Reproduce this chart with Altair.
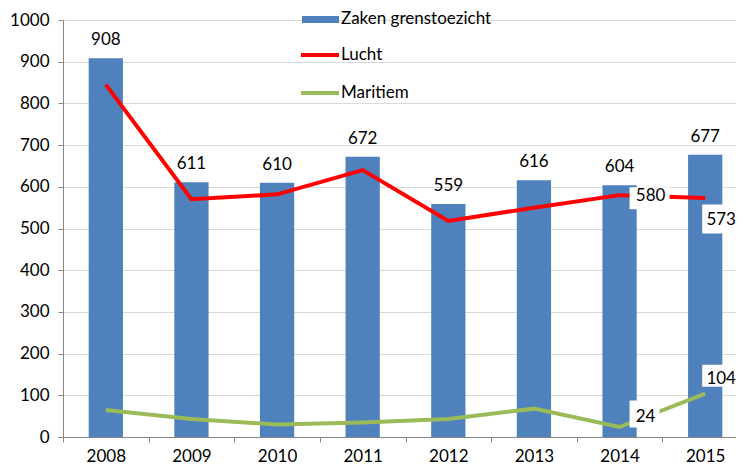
import altair as alt
import pandas as pd

years = ["2008", "2009", "2010", "2011", "2012", "2013", "2014", "2015"]
zaken = [908, 611, 610, 672, 559, 616, 604, 677]
lucht = [845, 570, 582, 640, 518, 550, 580, 573]
maritiem = [65, 43, 30, 35, 43, 68, 24, 104]
y_ticks = [0, 100, 200, 300, 400, 500, 600, 700, 800, 900, 1000]

FONT = "Lato"
FS = 17
BAR = "#4F81BD"
RED = "#FF0000"
GREEN = "#9BBB59"
AXIS = "#868686"

bars_df = pd.DataFrame({"year": years, "value": zaken})
lines_df = pd.DataFrame({
    "year": years * 2,
    "value": lucht + maritiem,
    "series": ["Lucht"] * 8 + ["Maritiem"] * 8,
})

x = alt.X("year:N", title=None, sort=years,
          scale=alt.Scale(paddingInner=0, paddingOuter=0, range=[0, 685]),
          axis=alt.Axis(tickBand="extent", labelAngle=0, domainColor=AXIS, tickColor=AXIS,
                        tickSize=5, labelPadding=6, grid=False))
y = alt.Y("value:Q", title=None,
          scale=alt.Scale(domain=[0, 1000], nice=False),
          axis=alt.Axis(values=y_ticks, format="d", domainColor=AXIS, tickColor=AXIS, tickSize=5,
                        labelPadding=9, gridColor="#D9D9D9", grid=True))

base_bar = alt.Chart(bars_df)
bars = base_bar.mark_bar(color=BAR, width=alt.RelativeBandSize(0.4)).encode(x=x, y=y)
bar_labels = base_bar.mark_text(dy=-13, baseline="alphabetic", fontSize=FS, font=FONT,
                                color="#000000").encode(x=x, y=y, text="value:Q")

lines = alt.Chart(lines_df).mark_line(strokeWidth=4).encode(
    x=x, y=y,
    color=alt.Color("series:N", scale=alt.Scale(domain=["Lucht", "Maritiem"], range=[RED, GREEN]),
                    legend=None),
    detail="series:N",
)


def box_label(series, year, tdx, tdy, bdx, bdy, w, h):
    src = alt.Chart(lines_df).transform_filter(
        (alt.datum.series == series) & (alt.datum.year == year))
    hw = w / 20.0
    hh = h / 20.0
    path = f"M{-hw},{-hh}L{hw},{-hh}L{hw},{hh}L{-hw},{hh}Z"
    box = src.mark_point(shape=path, size=400, filled=True, fill="white", opacity=1,
                         strokeWidth=0, xOffset=bdx, yOffset=bdy).encode(x=x, y=y)
    txt = src.mark_text(dx=tdx, dy=tdy, fontSize=FS, font=FONT, color="#000000",
                        align="center", baseline="middle").encode(x=x, y=y, text="value:Q")
    return [box, txt]


labels = []
labels += box_label("Lucht", "2014", 31, 1, 30, 3, 40, 22)
labels += box_label("Lucht", "2015", 16, 22, 17, 21, 40, 29)
labels += box_label("Maritiem", "2014", 26, -10, 25, -13, 30, 27)
labels += box_label("Maritiem", "2015", 16, -15, 17, -18, 40, 22)

one = alt.Data(values=[{"k": 1}])
leg = [
    alt.Chart(one).mark_rect(color=BAR).encode(
        x=alt.value(239), x2=alt.value(276), y=alt.value(-4), y2=alt.value(3)),
    alt.Chart(one).mark_rule(color=RED, strokeWidth=4).encode(
        x=alt.value(238), x2=alt.value(276), y=alt.value(35)),
    alt.Chart(one).mark_rule(color=GREEN, strokeWidth=4).encode(
        x=alt.value(238), x2=alt.value(276), y=alt.value(73)),
    alt.Chart(one).mark_text(text="Zaken grenstoezicht", align="left", baseline="middle",
                             fontSize=FS, font=FONT, color="#000000").encode(
        x=alt.value(278), y=alt.value(-1)),
    alt.Chart(one).mark_text(text="Lucht", align="left", baseline="middle",
                             fontSize=FS, font=FONT, color="#000000").encode(
        x=alt.value(278), y=alt.value(35)),
    alt.Chart(one).mark_text(text="Maritiem", align="left", baseline="middle",
                             fontSize=FS, font=FONT, color="#000000").encode(
        x=alt.value(278), y=alt.value(73)),
]

chart = alt.layer(bars, bar_labels, lines, *labels, *leg).properties(
    width=673, height=417,
    autosize=alt.AutoSizeParams(type="none"),
    padding={"left": 55, "top": 12, "right": 0, "bottom": 27},
).configure_view(stroke=None).configure_axis(
    labelFont=FONT, labelFontSize=FS, labelColor="#000000",
)

chart.save("out.html", embed_options={"renderer": "svg", "actions": False})
